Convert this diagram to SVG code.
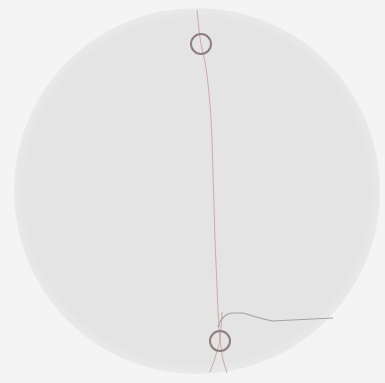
<svg xmlns="http://www.w3.org/2000/svg" width="385" height="383" viewBox="0 0 385 383">
<defs>
<style>
.ring{fill:none;stroke:#8e7e82;stroke-width:2}
.red{fill:none;stroke:#cfaaa8;stroke-width:1}
.grey{fill:none;stroke:#a8a0a0;stroke-width:1.2}
</style>
<radialGradient id="g" cx="0.5" cy="0.5" r="0.5">
<stop offset="0.94" stop-color="#e4e4e4"/>
<stop offset="1" stop-color="#e9e9e9"/>
</radialGradient>
</defs>
<rect width="385" height="383" fill="#f4f4f4"/>
<circle cx="197" cy="191" r="183" fill="url(#g)"/>
<g id="connectors">
<path class="red" d="M197 10 L199 30 L201 44 L205 62 Q210 90 212 140 L215 240 L218 310 L220 341 L223 360 L227 373"/>
<path class="red" d="M222 312 L221 330 L220 341 L215 358 L210 372"/>
<path class="grey" d="M218 327 Q222 314 232 313 L243 313 Q258 318 272 321 L333 318"/>
</g>
<g id="node-top"><circle class="ring" cx="201" cy="44" r="10"/></g>
<g id="node-bottom"><circle class="ring" cx="220" cy="341" r="10"/></g>
</svg>
